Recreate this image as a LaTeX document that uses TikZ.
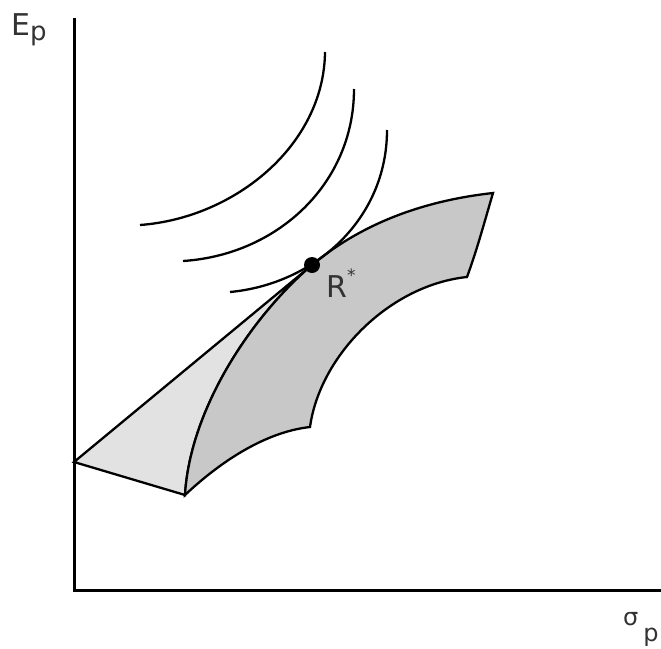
\documentclass[tikz,border=0pt]{standalone}
\usepackage{fontspec}
\setmainfont{DejaVu Sans}
\definecolor{darkreg}{HTML}{C8C8C8}
\definecolor{lightreg}{HTML}{E2E2E2}
\definecolor{txt}{HTML}{333333}
\begin{document}
\begin{tikzpicture}[x=1pt,y=-1pt,
  axis/.style={line width=3pt},
  icurve/.style={line width=2.3pt},
  region/.style={line width=2.3pt, draw=black},
  lbl/.style={text=txt, inner sep=0pt}]
\useasboundingbox (0,0) rectangle (661,648);
% axes
\coordinate (top) at (74,18);
\coordinate (O) at (74,590);
\coordinate (right) at (661,590);
\draw[axis] (top) -- (O) -- (right);
% key points
\coordinate (A) at (74,462);
\coordinate (R) at (312,265);
\coordinate (B) at (185,495);
\coordinate (C) at (310,427);
\coordinate (D) at (467,277);
\coordinate (T) at (493,193);
% light region
\filldraw[region, fill=lightreg] (A) -- (R) .. controls (250,318) and (190,410) .. (B) -- cycle;
% dark region
\filldraw[region, fill=darkreg] (B) .. controls (190,410) and (250,318) .. (R)
  .. controls (366,220) and (430,200) .. (T)
  .. controls (485,220) and (477,250) .. (D)
  .. controls (390,285) and (320,355) .. (C)
  .. controls (265,432) and (220,462) .. (B) -- cycle;
% indifference curves
\draw[icurve] (140,225) .. controls (235,218) and (324,145) .. (325,52);
\draw[icurve] (183,261) .. controls (277,255) and (354,184) .. (354,89);
\draw[icurve] (230,292) .. controls (315,284) and (387,219) .. (387,130);
% optimum point
\node[circle, fill=black, inner sep=0pt, minimum size=16pt] (rdot) at (R) {};
% labels
\node[lbl, anchor=base west, font=\fontsize{30}{30}\selectfont] (ep) at (11,35) {E\raisebox{-5pt}{\fontsize{26}{26}\selectfont p}};
\node[lbl, anchor=base west, font=\fontsize{30}{30}\selectfont] (rstar) at (326,297) {R\raisebox{16pt}{\fontsize{17}{17}\selectfont *}};
\node[lbl, anchor=base west, font=\fontsize{24}{24}\selectfont] (sp) at (623,625) {σ\hspace{5pt}\raisebox{-16pt}{p}};
\end{tikzpicture}
\end{document}
